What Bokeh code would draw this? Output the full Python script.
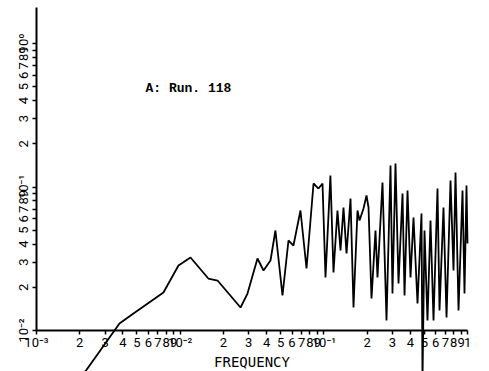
from bokeh.plotting import figure
from bokeh.models import FixedTicker, Label, Range1d
from bokeh.embed import file_html
from bokeh.resources import INLINE

# Spectrum (frequency, power)
freq = [0.00202, 0.00378, 0.00473, 0.00765, 0.00973, 0.0118, 0.0157, 0.0182, 0.0263, 0.0294,
        0.0345, 0.0380, 0.0425, 0.0460, 0.0515, 0.0567, 0.0614, 0.0687, 0.0757, 0.0847,
        0.0917, 0.0978, 0.1026, 0.111, 0.1166, 0.1243, 0.1305, 0.1369, 0.1437, 0.1532,
        0.1607, 0.1713, 0.1769, 0.1886, 0.1979, 0.2044, 0.2144, 0.2286, 0.2360, 0.2557,
        0.2727, 0.2907, 0.3001, 0.3149, 0.3305, 0.3524, 0.3639, 0.3818, 0.4006, 0.4203,
        0.4481, 0.4777, 0.4854, 0.5012, 0.5258, 0.5517, 0.5790, 0.6173, 0.6374, 0.6795,
        0.7133, 0.7603, 0.7978, 0.8238, 0.8644, 0.9216, 0.9515, 0.9824, 0.998]
power = [0.00463, 0.01119, 0.01314, 0.01840, 0.02838, 0.03226, 0.02303, 0.02230, 0.01447, 0.01810,
         0.03175, 0.02619, 0.03075, 0.04977, 0.01754, 0.04239, 0.03911, 0.06859, 0.02704, 0.1058,
         0.09761, 0.1058, 0.02340, 0.1203, 0.02536, 0.06859, 0.03610, 0.07197, 0.03440, 0.08317,
         0.01447, 0.06859, 0.05841, 0.07083, 0.08727, 0.07197, 0.01671, 0.04977, 0.02340, 0.1075,
         0.01174, 0.1412, 0.01810, 0.1458, 0.02126, 0.09011, 0.01754, 0.09454, 0.02340, 0.06130,
         0.01543, 0.06537, 0.00448, 0.04977, 0.01174, 0.05841, 0.01174, 0.09761, 0.01378, 0.07197,
         0.01232, 0.1110, 0.02619, 0.1262, 0.01378, 0.09454, 0.01810, 0.1024, 0.04039]

x_ticks = [0.001, 0.002, 0.003, 0.004, 0.005, 0.006, 0.007, 0.008, 0.009,
           0.01, 0.02, 0.03, 0.04, 0.05, 0.06, 0.07, 0.08, 0.09,
           0.1, 0.2, 0.3, 0.4, 0.5, 0.6, 0.7, 0.8, 0.9, 1.0]
x_tick_labels = ["10⁻³", "2", "3", "4", "5", "6", "7", "8", "9",
                 "10⁻²", "2", "3", "4", "5", "6", "7", "8", "9",
                 "10⁻¹", "2", "3", "4", "5", "6", "7", "8", "9", "1"]
y_ticks = [0.01, 0.02, 0.03, 0.04, 0.05, 0.06, 0.07, 0.08, 0.09,
           0.1, 0.2, 0.3, 0.4, 0.5, 0.6, 0.7, 0.8, 0.9, 1.0]
y_tick_labels = ["10⁻²", "2", "3", "4", "5", "6", "7", "8", "9",
                 "10⁻¹", "2", "3", "4", "5", "6", "7", "8", "9", "10⁰"]

x_title = "FREQUENCY"
run_label = "A: Run. 118"

p = figure(width=489, height=371, x_axis_type="log", y_axis_type="log",
           x_range=Range1d(0.000562, 1.42), y_range=Range1d(0.00518, 1.994),
           output_backend="svg", toolbar_location=None,
           min_border_left=0, min_border_right=0, min_border_top=0, min_border_bottom=0)
p.grid.visible = False
p.outline_line_color = None
p.background_fill_color = "white"
p.border_fill_color = "white"

p.line(freq, power, line_color="black", line_width=1.8)

font = "Roboto"

xa = p.xaxis[0]
xa.fixed_location = 0.01
xa.bounds = (0.001, 1.0)
xa.ticker = FixedTicker(ticks=x_ticks, minor_ticks=[])
xa.major_label_overrides = dict(zip(x_ticks, x_tick_labels))
xa.axis_line_width = 2
xa.major_tick_line_width = 1.5
xa.major_tick_out = 4
xa.major_tick_in = 0
xa.minor_tick_out = 0
xa.major_label_standoff = 0
xa.major_label_text_font = font
xa.major_label_text_font_size = "13px"
xa.major_label_text_color = "black"
xa.axis_label = x_title
xa.axis_label_text_font = "DejaVu Sans Mono"
xa.axis_label_text_font_style = "normal"
xa.axis_label_text_font_size = "14px"
xa.axis_label_text_color = "black"
xa.axis_label_standoff = 1

ya = p.yaxis[0]
ya.fixed_location = 0.001
ya.bounds = (0.01, 1.778)
ya.ticker = FixedTicker(ticks=y_ticks, minor_ticks=[])
ya.major_label_overrides = dict(zip(y_ticks, y_tick_labels))
ya.major_label_orientation = "vertical"
ya.axis_line_width = 2
ya.major_tick_line_width = 1.5
ya.major_tick_out = 4
ya.major_tick_in = 0
ya.minor_tick_out = 0
ya.major_label_standoff = 1
ya.major_label_text_font = font
ya.major_label_text_font_size = "13px"
ya.major_label_text_color = "black"

p.add_layout(Label(x=0.00574, y=0.485, text=run_label, text_font="Liberation Mono",
                   text_font_style="bold", text_font_size="13px", text_color="black",
                   text_baseline="middle", text_align="left"))

open("out.html", "w").write(file_html(p, INLINE))
